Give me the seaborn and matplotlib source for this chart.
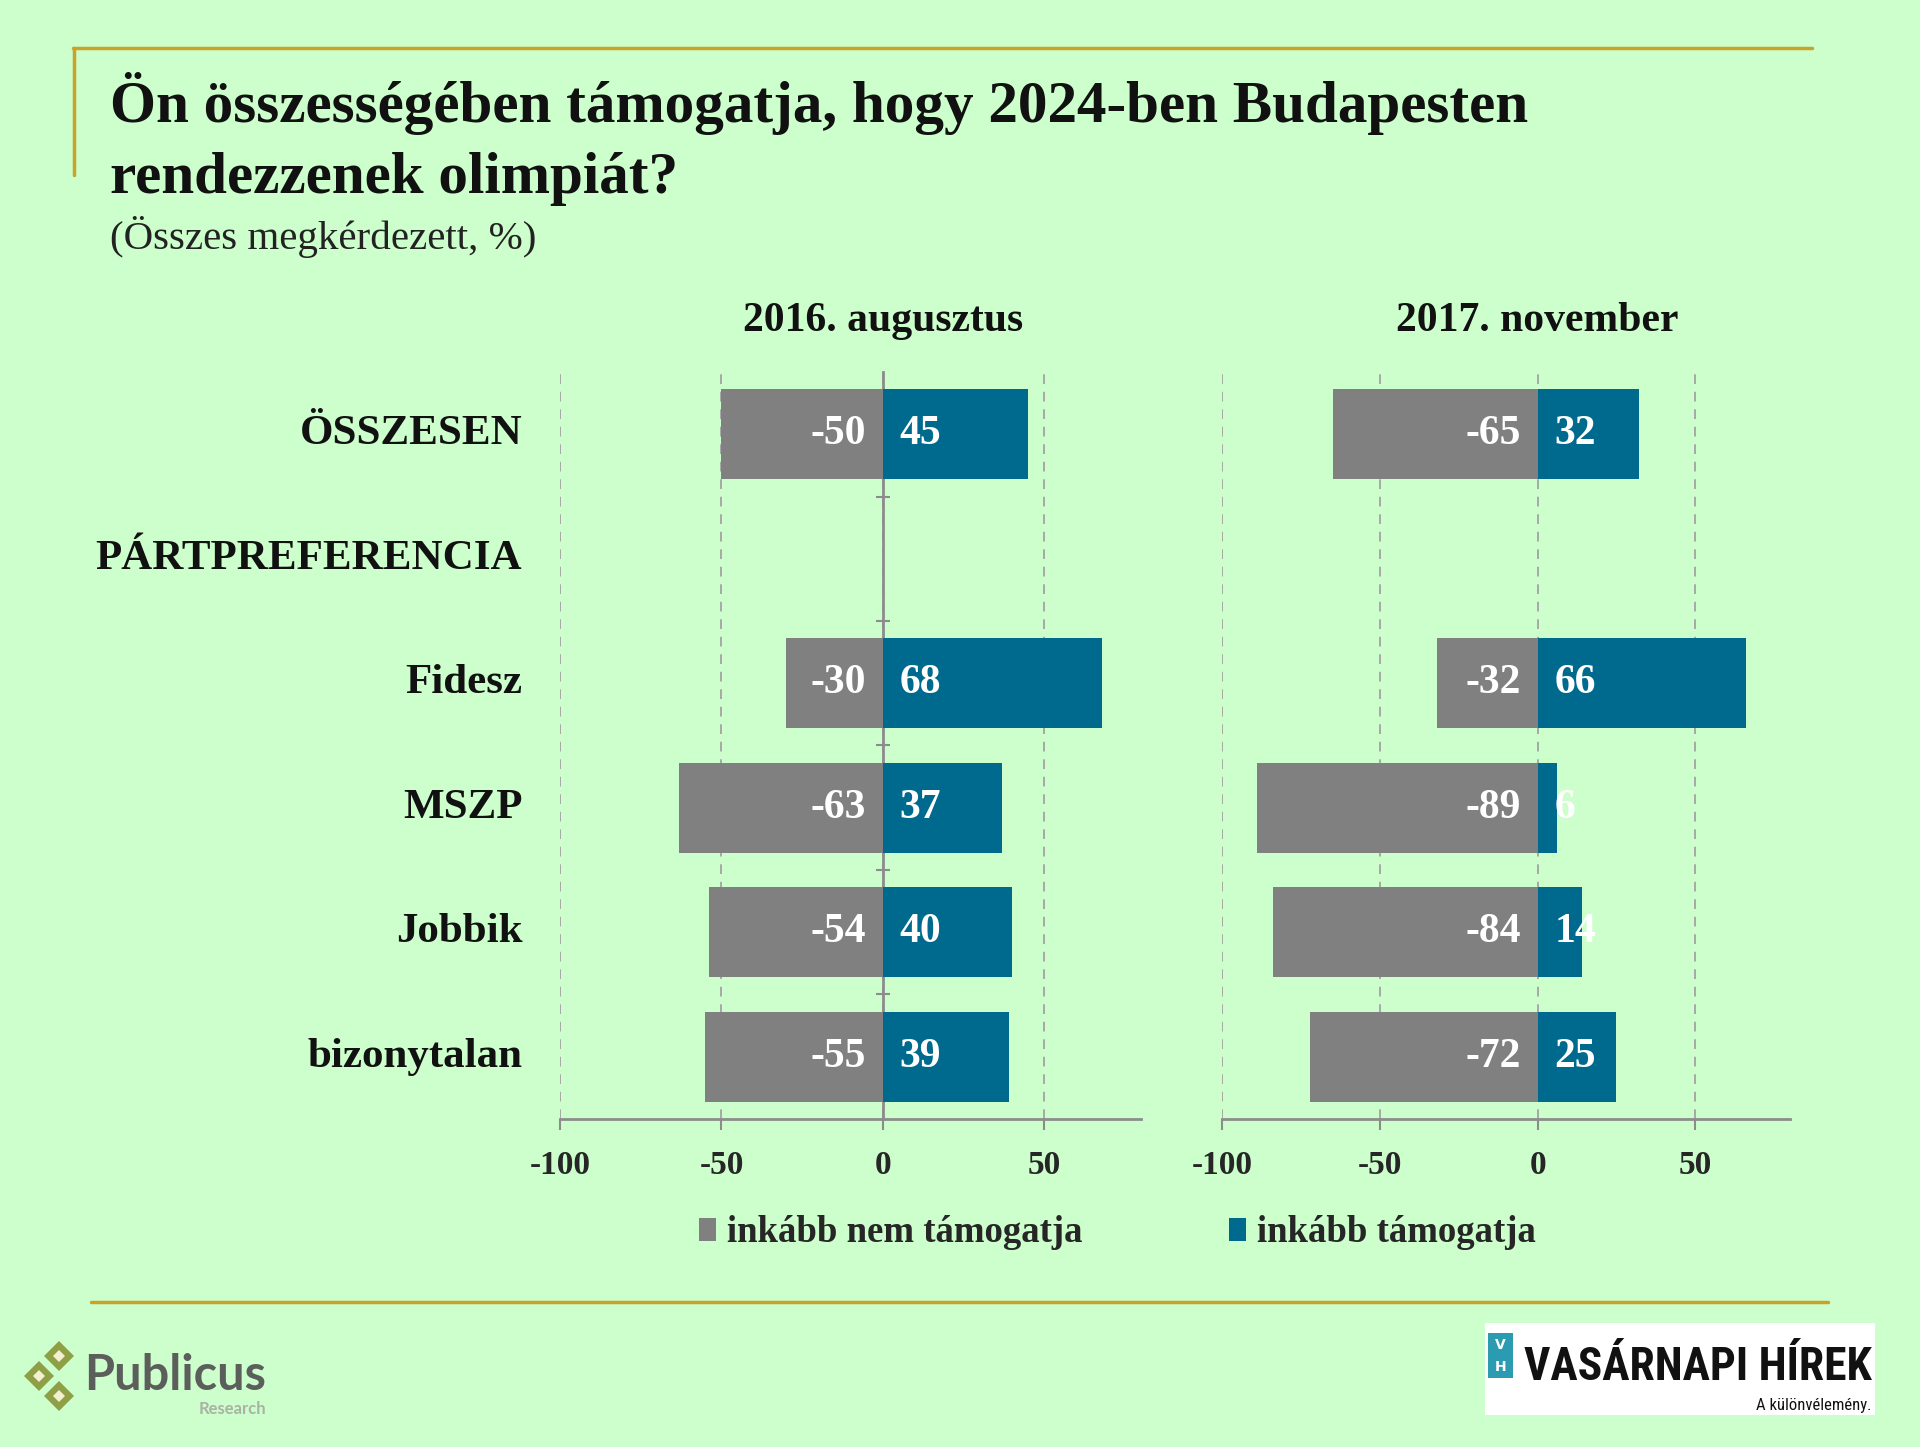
import pandas as pd
import matplotlib.pyplot as plt
import matplotlib.transforms as mtransforms
from matplotlib.lines import Line2D
from matplotlib.patches import Polygon, Rectangle
from matplotlib import font_manager
import seaborn as sns

# data
categories = ["ÖSSZESEN", "PÁRTPREFERENCIA", "Fidesz", "MSZP", "Jobbik", "bizonytalan"]
groups = ["ÖSSZESEN", "Fidesz", "MSZP", "Jobbik", "bizonytalan"]
series_names = ["inkább nem támogatja", "inkább támogatja"]
periods = ["2016. augusztus", "2017. november"]
oppose_2016 = [-50, -30, -63, -54, -55]
support_2016 = [45, 68, 37, 40, 39]
oppose_2017 = [-65, -32, -89, -84, -72]
support_2017 = [32, 66, 6, 14, 25]
x_ticks = [-100, -50, 0, 50]

BG = "#CCFFCC"
GRAY = "#808080"
BLUE = "#006A8E"
GOLD = "#C9A227"
AXIS_GRAY = "#8C8C8C"

sns.set_theme(style="white")
plt.rcParams["font.family"] = ["Liberation Serif", "DejaVu Serif"]

available = {f.name for f in font_manager.fontManager.ttflist}
narrow = next((n for n in ["Liberation Sans Narrow", "Roboto Condensed", "DejaVu Sans Condensed",
                           "Roboto", "DejaVu Sans"] if n in available), "DejaVu Sans")


def make_frame(oppose, support):
    rows = []
    for g, o, s in zip(groups, oppose, support):
        rows.append({"group": g, "series": series_names[0], "value": o})
        rows.append({"group": g, "series": series_names[1], "value": s})
    return pd.DataFrame(rows)


def fit_width(fig, text, width_px):
    # rescale a text so its rendered width matches width_px
    r = fig.canvas.get_renderer()
    w = text.get_window_extent(r).width
    text.set_fontsize(text.get_fontsize() * width_px / w)


fig = plt.figure(figsize=(19.2, 14.47), dpi=100)
fig.patch.set_facecolor(BG)

# decoration layer in pixel coordinates
deco = fig.add_axes([0, 0, 1, 1], zorder=-1)
deco.set_xlim(0, 1920)
deco.set_ylim(1447, 0)
deco.axis("off")

ax1 = fig.add_axes([0.2917, 0.2267, 0.3026, 0.5162])
ax2 = fig.add_axes([0.6365, 0.2267, 0.2958, 0.5162])

frames = [make_frame(oppose_2016, support_2016), make_frame(oppose_2017, support_2017)]

for i, (ax, df, period) in enumerate(zip([ax1, ax2], frames, periods)):
    ax.set_facecolor("none")
    sns.barplot(data=df, x="value", y="group", hue="series", order=categories,
                hue_order=series_names, palette=[GRAY, BLUE], dodge=False,
                width=0.725, orient="h", saturation=1, linewidth=0, ax=ax,
                legend=(i == 0), zorder=3)
    ax.set_xlim(-100, 80)
    ax.set_ylim(len(categories) - 0.5, -0.5)
    ax.set_xlabel("")
    ax.set_ylabel("")
    ax.set_xticks(x_ticks)
    ax.set_xticklabels([str(t) for t in x_ticks], fontsize=24, fontweight="bold")
    ax.tick_params(axis="x", direction="out", length=8, width=1.5, color=AXIS_GRAY,
                   pad=14, bottom=True)
    ax.set_yticks([])
    ax.grid(axis="x", color="#A8A8A8", linestyle=(0, (5, 4)), linewidth=1.4, zorder=0)
    for s in ["top", "right"]:
        ax.spines[s].set_visible(False)
    ax.spines["bottom"].set_color(AXIS_GRAY)
    ax.spines["bottom"].set_linewidth(2)

    if i == 0:
        ax.spines["left"].set_position(("data", 0))
        ax.spines["left"].set_color(AXIS_GRAY)
        ax.spines["left"].set_linewidth(2)
        ax.spines["left"].set_zorder(2)
        ax.set_yticks([k + 0.5 for k in range(len(categories) - 1)], minor=True)
        ax.tick_params(axis="y", which="minor", direction="inout", length=10,
                       width=1.5, color=AXIS_GRAY, left=True)
        for k, cat in enumerate(categories):
            ax.text(-0.065, k, cat, transform=ax.get_yaxis_transform(), ha="right",
                    va="center", fontsize=31, fontweight="bold", color="#111111")
    else:
        ax.spines["left"].set_visible(False)

    ax.text(0, 1.068, period, transform=mtransforms.blended_transform_factory(ax.transData, ax.transAxes),
            ha="center", va="center", fontsize=30, fontweight="bold", color="#111111")

    for container in ax.containers:
        for bar, v in zip(container, container.datavalues):
            yc = bar.get_y() + bar.get_height() / 2
            ax.annotate(f"{v:.0f}", xy=(0, yc), xytext=(-12 if v < 0 else 12, 0),
                        textcoords="offset points", ha="right" if v < 0 else "left",
                        va="center", color="white", fontsize=30, fontweight="bold",
                        zorder=5, annotation_clip=False)

leg = ax1.get_legend()
handles = leg.legend_handles
labels = [t.get_text() for t in leg.texts]
leg.remove()
fig.legend(handles, labels, loc="center", bbox_to_anchor=(0.582, 0.148), ncol=2,
           frameon=False, handlelength=0.45, handleheight=0.6, handletextpad=0.3,
           columnspacing=4.0, prop={"size": 26.5, "weight": "bold"})

# title block
deco.text(110, 122, "Ön összességében támogatja, hogy 2024-ben Budapesten", fontsize=42.6,
          fontweight="bold", color="#111111", va="baseline")
deco.text(110, 193, "rendezzenek olimpiát?", fontsize=42.6, fontweight="bold",
          color="#111111", va="baseline")
deco.text(110, 249, "(Összes megkérdezett, %)", fontsize=29.5, color="#222222", va="baseline")

# gold frame lines
deco.add_line(Line2D([73, 1812], [48, 48], color=GOLD, lw=2.5))
deco.add_line(Line2D([74, 74], [48, 175], color=GOLD, lw=2.5))
deco.add_line(Line2D([91, 1828], [1302, 1302], color=GOLD, lw=2.5))

# Publicus logo
for cx, cy in [(59, 1356), (39, 1376), (59, 1396)]:
    deco.add_patch(Polygon([(cx, cy - 15), (cx + 15, cy), (cx, cy + 15), (cx - 15, cy)],
                           closed=True, facecolor="#8E9F45", edgecolor="none"))
    deco.add_patch(Polygon([(cx, cy - 6), (cx + 6, cy), (cx, cy + 6), (cx - 6, cy)],
                           closed=True, facecolor="#F3F0D2", edgecolor="none"))
deco.text(84, 1390, "Publicus", family=["Lato", "DejaVu Sans"], fontweight="bold",
          fontsize=35, color="#5C5E5C", va="baseline")
deco.text(266, 1414, "Research", family=["Lato", "DejaVu Sans"], fontweight="bold",
          fontsize=12, color="#A9B3A3", ha="right", va="baseline")

# Vasárnapi Hírek logo
deco.add_patch(Rectangle((1485, 1323), 390, 92, facecolor="white", edgecolor="none"))
deco.add_patch(Rectangle((1488, 1333), 25, 45, facecolor="#2A9BB0", edgecolor="none"))
deco.text(1500.5, 1345, "V", ha="center", va="center", color="white", fontsize=10,
          family=["DejaVu Sans"], fontweight="bold")
deco.text(1500.5, 1367, "H", ha="center", va="center", color="white", fontsize=10,
          family=["DejaVu Sans"], fontweight="bold")
vh = deco.text(1524, 1380, "VASÁRNAPI HÍREK", ha="left", va="baseline", color="#111111",
               fontsize=30, family=[narrow, "DejaVu Sans"], fontweight="heavy")
fit_width(fig, vh, 348)
deco.text(1872, 1410, "A különvélemény.", ha="right", va="baseline", color="#111111",
          fontsize=12, family=[narrow, "DejaVu Sans"])

fig.savefig("out.png", dpi=100, facecolor=BG)
